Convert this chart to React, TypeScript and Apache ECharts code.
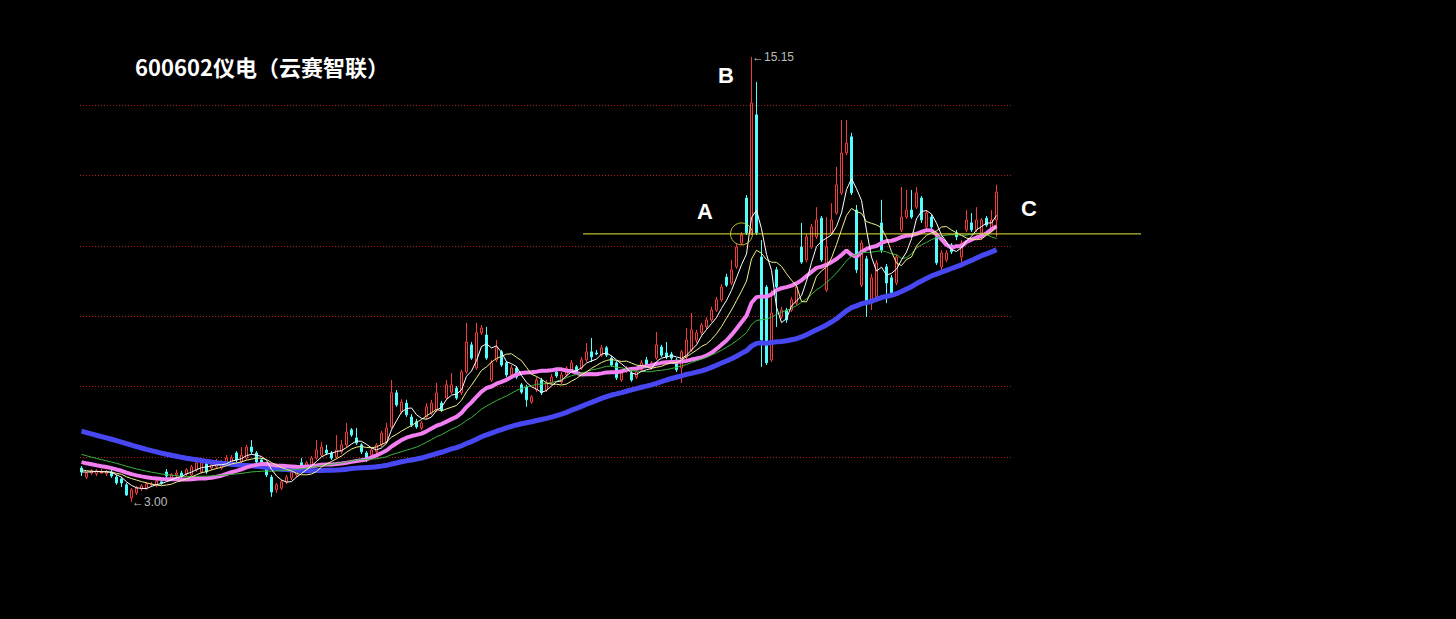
import { useEffect, useRef } from "react";
import * as echarts from "echarts";

const title = "600602仪电（云赛智联）";

// Closing prices of the sessions before the first drawn candle; they only
// feed the moving averages so every line starts with its full history.
const priorCloses = [
  6.05, 6.1, 5.98, 5.92, 6.02, 5.95, 5.85, 5.8, 5.88, 5.75,
  5.7, 5.78, 5.65, 5.6, 5.55, 5.62, 5.5, 5.45, 5.4, 5.48,
  5.35, 5.3, 5.25, 5.32, 5.2, 5.15, 5.1, 5.18, 5.05, 5.0,
  4.98, 4.95, 4.9, 4.85, 4.78, 4.7, 4.62, 4.58, 4.5, 4.45,
  4.42, 4.38, 4.4, 4.32, 4.28, 4.3, 4.25, 4.22, 4.2, 4.18,
  4.05, 3.98, 3.92, 3.9, 3.85, 3.8, 3.84, 3.78, 3.86,
];

const opens = [
  3.93, 3.68, 3.79, 3.77, 3.79, 3.77, 3.82, 3.68, 3.63, 3.47,
  3.11, 3.25, 3.36, 3.38, 3.47, 3.47, 3.55, 3.82, 3.66, 3.74,
  3.79, 3.77, 3.74, 3.88, 3.82, 4.09, 3.93, 3.96, 3.93, 4.07,
  4.07, 4.34, 4.09, 4.2, 4.5, 4.34, 4.15, 3.93, 3.68, 3.33,
  3.38, 3.55, 3.66, 3.74, 4.07, 3.96, 4.01, 4.2, 4.28, 4.42,
  4.34, 4.23, 4.37, 4.56, 4.97, 4.75, 4.56, 4.34, 4.28, 4.37,
  4.56, 4.64, 5.05, 5.98, 5.46, 5.7, 5.32, 5.19, 5.02, 5.32,
  5.43, 5.51, 5.7, 5.84, 6.0, 6.11, 5.98, 6.55, 7.29, 6.66,
  7.62, 7.56, 6.33, 6.88, 7.1, 6.8, 6.47, 6.66, 6.2, 6.14,
  5.73, 6.06, 6.33, 6.06, 6.25, 6.55, 6.28, 6.47, 6.61, 6.69,
  6.66, 6.88, 7.1, 7.07, 7.01, 7.21, 6.93, 6.8, 6.33, 6.58,
  6.52, 6.41, 6.61, 6.88, 6.66, 6.93, 7.23, 7.07, 7.04, 6.88,
  6.66, 6.96, 7.15, 7.42, 7.62, 7.78, 7.97, 8.24, 8.52, 9.14,
  8.98, 9.42, 10.07, 11.3, 10.35, 13.57, 9.69, 8.87, 6.88, 9.34,
  8.05, 8.24, 8.24, 8.43, 9.96, 9.61, 9.96, 10.24, 10.75, 8.79,
  10.35, 10.89, 11.44, 12.53, 12.97, 10.97, 8.92, 9.64, 8.43, 8.6,
  10.62, 9.42, 9.12, 8.98, 10.43, 10.78, 10.97, 11.05, 11.3, 10.51,
  10.78, 10.24, 9.42, 9.61, 10.02, 10.35, 9.69, 10.43, 10.62, 10.43,
  10.35, 10.75, 10.43, 10.7,
];

const closes = [
  3.82, 3.79, 3.85, 3.85, 3.82, 3.82, 3.71, 3.52, 3.52, 3.19,
  3.33, 3.38, 3.44, 3.49, 3.49, 3.57, 3.52, 3.71, 3.74, 3.79,
  3.71, 3.88, 3.96, 4.07, 4.07, 3.82, 4.01, 4.09, 4.09, 4.2,
  4.2, 4.15, 4.28, 4.5, 4.37, 4.09, 3.98, 3.74, 3.27, 3.47,
  3.55, 3.68, 3.82, 3.88, 3.96, 4.07, 4.2, 4.42, 4.5, 4.34,
  4.2, 4.42, 4.56, 4.91, 4.83, 4.61, 4.37, 4.15, 4.42, 4.56,
  4.88, 5.02, 5.98, 5.65, 5.73, 5.38, 5.1, 5.05, 5.16, 5.6,
  5.7, 5.98, 5.51, 6.2, 6.2, 5.84, 6.55, 7.37, 6.93, 7.62,
  7.75, 6.93, 6.8, 7.21, 6.74, 6.47, 6.66, 6.41, 6.0, 5.79,
  5.87, 6.33, 5.98, 6.25, 6.41, 6.44, 6.47, 6.66, 6.8, 6.52,
  6.88, 7.1, 6.96, 7.04, 7.21, 7.01, 6.74, 6.39, 6.52, 6.63,
  6.33, 6.55, 6.8, 6.74, 6.8, 7.29, 7.01, 6.96, 6.93, 6.61,
  7.1, 7.42, 7.7, 7.62, 7.83, 7.97, 8.24, 8.52, 8.87, 8.92,
  9.34, 9.96, 10.29, 10.35, 13.89, 10.35, 7.42, 6.8, 8.16, 8.87,
  8.24, 7.97, 8.52, 8.87, 9.55, 10.24, 10.51, 10.7, 9.61, 9.96,
  10.7, 11.66, 12.53, 12.8, 11.44, 9.34, 10.07, 8.46, 9.12, 9.53,
  9.88, 8.98, 8.71, 9.69, 10.78, 10.97, 10.78, 11.44, 10.7, 10.89,
  10.51, 9.53, 9.8, 9.8, 9.83, 10.24, 10.07, 10.7, 10.43, 10.7,
  10.7, 10.56, 10.7, 11.46,
];

const lows = [
  3.71, 3.63, 3.74, 3.71, 3.77, 3.71, 3.66, 3.47, 3.41, 3.17,
  3.0, 3.19, 3.3, 3.33, 3.41, 3.41, 3.47, 3.66, 3.6, 3.68,
  3.66, 3.71, 3.68, 3.82, 3.77, 3.77, 3.88, 3.9, 3.88, 4.01,
  4.01, 4.09, 4.04, 4.15, 4.31, 4.01, 3.93, 3.68, 3.14, 3.25,
  3.33, 3.49, 3.6, 3.68, 3.9, 3.9, 3.96, 4.15, 4.23, 4.28,
  4.15, 4.18, 4.31, 4.5, 4.78, 4.56, 4.31, 4.09, 4.23, 4.31,
  4.5, 4.58, 5.0, 5.6, 5.4, 5.32, 5.05, 5.0, 4.97, 5.27,
  5.38, 5.46, 5.46, 5.79, 5.95, 5.79, 5.92, 6.5, 6.88, 6.61,
  7.56, 6.88, 6.28, 6.82, 6.69, 6.41, 6.41, 6.36, 5.95, 5.6,
  5.68, 6.0, 5.92, 6.0, 6.2, 6.39, 6.22, 6.41, 6.55, 6.47,
  6.61, 6.82, 6.82, 7.01, 6.96, 6.96, 6.69, 6.33, 6.28, 6.52,
  6.28, 6.36, 6.55, 6.69, 6.61, 6.88, 6.96, 6.9, 6.88, 6.55,
  6.25, 6.9, 7.1, 7.34, 7.56, 7.72, 7.91, 8.19, 8.46, 8.87,
  8.92, 9.36, 10.02, 10.29, 10.29, 10.29, 6.69, 6.74, 6.82, 7.78,
  8.0, 7.89, 8.19, 8.38, 9.5, 9.55, 9.91, 10.18, 9.55, 8.73,
  10.29, 10.84, 11.38, 12.47, 11.38, 9.25, 8.87, 8.05, 8.24, 8.54,
  9.8, 8.43, 8.68, 8.92, 10.37, 10.73, 10.73, 11.0, 10.62, 10.45,
  10.45, 9.47, 9.25, 9.55, 9.77, 10.15, 9.42, 10.37, 10.37, 10.37,
  10.15, 10.51, 10.37, 10.24,
];

const highs = [
  3.98, 3.82, 3.9, 3.9, 3.9, 3.88, 3.88, 3.74, 3.68, 3.52,
  3.38, 3.44, 3.49, 3.55, 3.55, 3.66, 3.6, 3.9, 3.79, 3.88,
  3.85, 3.93, 4.01, 4.12, 4.15, 4.15, 4.07, 4.18, 4.15, 4.28,
  4.28, 4.39, 4.5, 4.56, 4.69, 4.39, 4.2, 3.98, 3.74, 3.52,
  3.6, 3.74, 3.88, 3.96, 4.2, 4.12, 4.26, 4.69, 4.64, 4.56,
  4.39, 4.83, 4.69, 5.16, 5.02, 5.02, 4.61, 4.39, 4.48, 4.61,
  4.94, 5.16, 6.33, 6.06, 5.81, 5.79, 5.4, 5.27, 5.21, 5.7,
  5.79, 6.25, 5.76, 6.33, 6.52, 6.17, 6.61, 7.89, 7.37, 7.89,
  7.83, 7.78, 6.88, 7.42, 7.15, 6.85, 6.74, 6.71, 6.25, 6.2,
  5.92, 6.41, 6.39, 6.33, 6.5, 6.66, 6.55, 6.71, 6.88, 6.74,
  6.96, 7.34, 7.48, 7.15, 7.29, 7.26, 6.99, 6.85, 6.58, 6.71,
  6.58, 6.63, 6.88, 6.96, 6.85, 7.64, 7.29, 7.37, 7.1, 6.93,
  7.15, 7.75, 8.16, 7.7, 7.89, 8.05, 8.33, 8.6, 8.95, 9.23,
  9.61, 10.04, 10.37, 11.38, 15.15, 14.47, 10.15, 8.92, 8.79, 9.42,
  8.33, 8.3, 8.6, 8.95, 10.62, 10.32, 10.59, 11.05, 10.81, 10.78,
  11.16, 12.15, 13.43, 13.43, 13.08, 11.11, 10.15, 9.72, 9.23, 9.61,
  11.25, 9.5, 9.2, 9.77, 11.6, 11.52, 11.52, 11.6, 11.35, 10.97,
  10.84, 10.29, 9.88, 9.88, 10.07, 10.43, 10.15, 10.97, 10.89, 11.05,
  10.75, 10.81, 10.97, 11.66,
];

const sessions = closes.map((_, i) => String(i + 1));

// Horizontal level through point A and the session it is circled on
const supportLevel = 10.32;
const breakoutSession = 132;

const priceMin = 3.0;
const priceMax = 15.15;

const maLines = [
  { name: "MA60", period: 60, color: "#4848f2", width: 5 },
  { name: "MA20", period: 20, color: "#f27ef2", width: 4 },
  { name: "MA30", period: 30, color: "#3cb43c", width: 1 },
  { name: "MA10", period: 10, color: "#f0f08c", width: 1 },
  { name: "MA5", period: 5, color: "#ffffff", width: 1 },
];

const annotations = [
  { text: "A", x: 705, y: 211 },
  { text: "B", x: 726, y: 75 },
  { text: "C", x: 1029, y: 208 },
];

const fullCloses = [...priorCloses, ...closes];

function movingAverage(period: number): number[] {
  return closes.map((_, i) => {
    const end = priorCloses.length + i;
    let sum = 0;
    for (let k = end - period + 1; k <= end; k++) sum += fullCloses[k];
    return +(sum / period).toFixed(3);
  });
}

export default function App() {
  const ref = useRef<HTMLDivElement>(null);

  useEffect(() => {
    if (!ref.current) return;
    const chart = echarts.init(ref.current, null, { renderer: "svg" });
    const candles = closes.map((c, i) => [opens[i], c, lows[i], highs[i]]);

    chart.setOption({
      animation: false,
      backgroundColor: "#000000",
      grid: [
        { left: 79, top: 57, width: 920, height: 445 },
        { left: 80, top: 105, width: 933, height: 352 },
        { left: 583, top: 57, width: 558, height: 445 },
      ],
      xAxis: [
        {
          type: "category",
          gridIndex: 0,
          data: sessions,
          show: false,
        },
        { type: "value", gridIndex: 1, min: 0, max: 1, show: false },
        { type: "value", gridIndex: 2, min: 0, max: 1, show: false },
      ],
      yAxis: [
        {
          type: "value",
          gridIndex: 0,
          min: priceMin,
          max: priceMax,
          show: false,
          splitLine: { show: false },
        },
        {
          type: "value",
          gridIndex: 1,
          min: 0,
          max: 5,
          interval: 1,
          axisLine: { show: false },
          axisTick: { show: false },
          axisLabel: { show: false },
          splitLine: {
            show: true,
            lineStyle: { color: "#b01c1c", type: [1, 2], width: 1 },
          },
        },
        {
          type: "value",
          gridIndex: 2,
          min: priceMin,
          max: priceMax,
          show: false,
          splitLine: { show: false },
        },
      ],
      graphic: [
        {
          type: "text",
          left: 135,
          top: 55,
          style: {
            text: title,
            fill: "#ffffff",
            font: 'bold 22px "Noto Sans CJK SC"',
          },
        },
        ...annotations.map((a) => ({
          type: "text",
          x: a.x,
          y: a.y,
          style: {
            text: a.text,
            fill: "#ffffff",
            font: 'bold 22px "Liberation Sans"',
            align: "center",
            verticalAlign: "middle",
          },
        })),
      ],
      series: [
        {
          type: "candlestick",
          xAxisIndex: 0,
          yAxisIndex: 0,
          data: candles,
          barWidth: 3,
          itemStyle: {
            color: "#000000",
            borderColor: "#f03c3c",
            color0: "#54fcfc",
            borderColor0: "#54fcfc",
            borderWidth: 1,
          },
          markPoint: {
            symbol: "circle",
            symbolSize: 1,
            itemStyle: { color: "rgba(0,0,0,0)" },
            label: {
              show: true,
              position: "right",
              distance: 0,
              color: "#bdbdbd",
              fontSize: 12,
              fontFamily: "Liberation Sans",
              formatter: (p: any) => "←" + Number(p.value).toFixed(2),
            },
            data: [
              { type: "max", valueDim: "highest" },
              { type: "min", valueDim: "lowest" },
            ],
          },
        },
        ...maLines.map((m) => ({
          type: "line",
          name: m.name,
          xAxisIndex: 0,
          yAxisIndex: 0,
          data: movingAverage(m.period),
          symbol: "none",
          lineStyle: { color: m.color, width: m.width },
          z: 3,
        })),
        {
          type: "scatter",
          xAxisIndex: 0,
          yAxisIndex: 0,
          data: [[breakoutSession, supportLevel]],
          symbol: "circle",
          symbolSize: 22,
          itemStyle: {
            color: "rgba(0,0,0,0)",
            borderColor: "#e6e632",
            borderWidth: 1,
          },
          z: 5,
        },
        {
          type: "line",
          xAxisIndex: 2,
          yAxisIndex: 2,
          data: [
            [0, supportLevel],
            [1, supportLevel],
          ],
          symbol: "none",
          lineStyle: { color: "#e8e83c", width: 1 },
          z: 4,
        },
      ],
    });

    return () => chart.dispose();
  }, []);

  return (
    <div
      ref={ref}
      style={{
        position: "fixed",
        left: 0,
        top: 0,
        width: 1456,
        height: 619,
        background: "#000000",
      }}
    />
  );
}
